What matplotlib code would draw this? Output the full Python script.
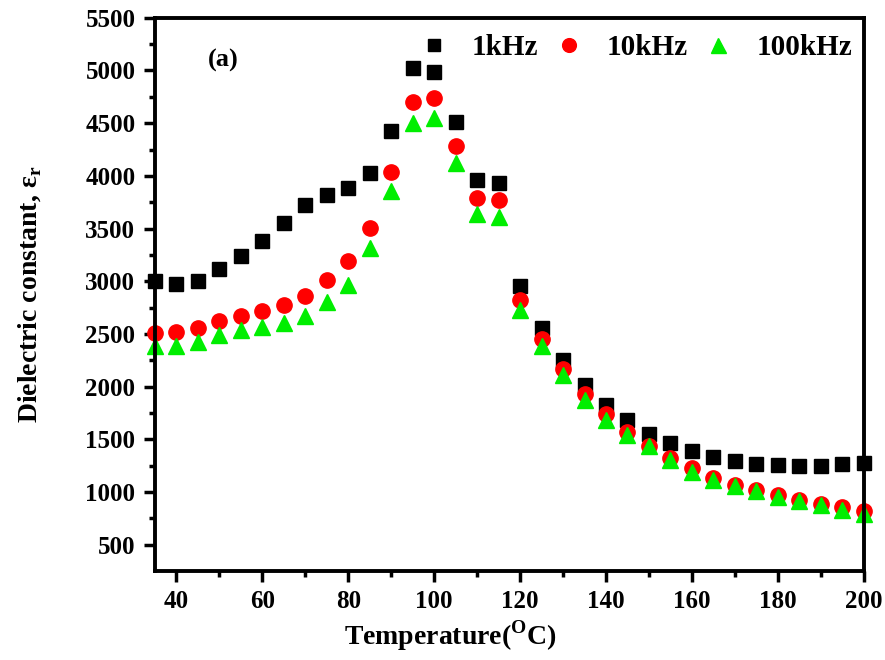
import matplotlib.pyplot as plt
import numpy as np

plt.rcParams['font.family'] = 'Liberation Serif'
plt.rcParams['font.weight'] = 'bold'
plt.rcParams['mathtext.fontset'] = 'custom'
plt.rcParams['mathtext.rm'] = 'Liberation Serif'
plt.rcParams['mathtext.bf'] = 'Liberation Serif:bold'

# temperature (C)
temp = np.arange(35, 201, 5)

# dielectric constant at three frequencies
eps_1k = [3000, 2970, 3005, 3115, 3240, 3385, 3550, 3720, 3815, 3885, 4030,
          4430, 5020, 4990, 4510, 3965, 3935, 2952, 2555, 2255, 2018, 1828,
          1678, 1550, 1466, 1385, 1328, 1290, 1266, 1258, 1247, 1250, 1260,
          1272]
eps_10k = [2510, 2520, 2555, 2622, 2672, 2720, 2775, 2862, 3012, 3196, 3508,
           4040, 4703, 4735, 4288, 3792, 3766, 2818, 2451, 2167, 1925, 1737,
           1573, 1433, 1322, 1225, 1132, 1069, 1018, 972, 925, 884, 852, 820]
eps_100k = [2388, 2385, 2426, 2492, 2536, 2566, 2605, 2672, 2803, 2967, 3315,
            3855, 4500, 4548, 4122, 3638, 3612, 2727, 2381, 2110, 1874, 1684,
            1540, 1432, 1304, 1193, 1115, 1052, 1004, 956, 909, 876, 830, 788]

fig = plt.figure(figsize=(8.85, 6.6), dpi=100)
ax = fig.add_axes([0.175, 0.135, 0.801, 0.838])

ax.plot(temp, eps_1k, 's', color='black', markersize=10, label='1kHz',
        clip_on=False)
ax.plot(temp, eps_10k, 'o', color='#ff0000', markersize=11, label='10kHz',
        clip_on=False)
ax.plot(temp, eps_100k, '^', color='#00ee00', markersize=12, label='100kHz',
        clip_on=False)

ax.set_xlim(35, 200)
ax.set_ylim(250, 5500)
ax.set_xticks(np.arange(40, 201, 20))
ax.set_xticks(np.arange(50, 201, 20), minor=True)
ax.set_yticks(np.arange(500, 5501, 500))
ax.set_yticks(np.arange(750, 5501, 500), minor=True)

for s in ax.spines.values():
    s.set_linewidth(2.8)
ax.tick_params(which='major', direction='out', length=8, width=2.5,
               labelsize=18, pad=6)
ax.tick_params(which='minor', direction='out', length=4, width=2.5)
for lbl in ax.get_xticklabels() + ax.get_yticklabels():
    lbl.set_fontweight('bold')

ax.set_xlabel(r'Temperature($^\mathbf{O}$C)', fontsize=20, fontweight='bold',
              labelpad=2)
ax.xaxis.set_label_coords(0.417, -0.085)
ax.set_ylabel(r'Dielectric constant, ε$_\mathbf{r}$', fontsize=20,
              fontweight='bold', labelpad=30)

ax.text(51, 5100, '(a)', fontsize=19, fontweight='bold', ha='center',
        va='center')

ax.legend(loc='upper right', bbox_to_anchor=(1.0, 0.992), ncol=3,
          frameon=False, handletextpad=0.8, columnspacing=0.55,
          borderaxespad=0.0, handlelength=1.0, markerscale=0.9,
          prop={'weight': 'bold', 'size': 21})

fig.savefig('out.png', dpi=100)
